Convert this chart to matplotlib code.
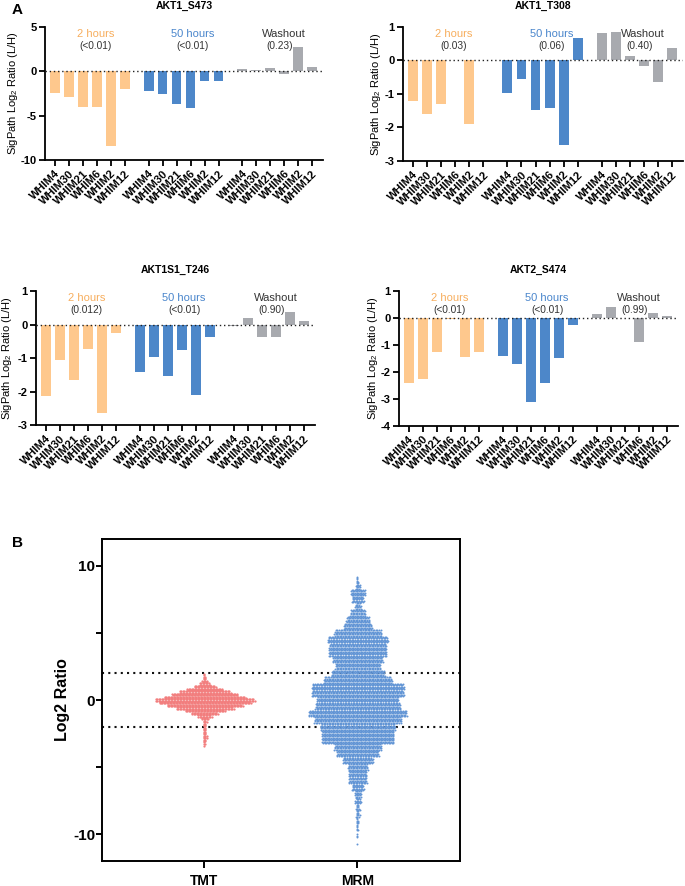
import numpy as np
import matplotlib
matplotlib.use('Agg')
import matplotlib.pyplot as plt

plt.rcParams['font.family'] = ['Liberation Sans', 'DejaVu Sans']
plt.rcParams['mathtext.fontset'] = 'custom'
plt.rcParams['mathtext.rm'] = 'Liberation Sans'
plt.rcParams['mathtext.it'] = 'Liberation Sans:italic'
plt.rcParams['mathtext.bf'] = 'Liberation Sans:bold'

# ---- panel A data ----
cell_lines = ['WHIM4', 'WHIM30', 'WHIM21', 'WHIM6', 'WHIM2', 'WHIM12']
groups = ['2 hours', '50 hours', 'Washout']

s473_2h = [-2.45, -2.85, -4.05, -4.05, -8.4, -2.0]
s473_50h = [-2.2, -2.55, -3.65, -4.15, -1.05, -1.1]
s473_wash = [0.25, 0.12, 0.35, -0.35, 2.8, 0.45]
s473_p = ['(<0.01)', '(<0.01)', '(0.23)']

t308_2h = [-1.2, -1.6, -1.3, 0.0, -1.9, 0.02]
t308_50h = [-0.98, -0.56, -1.48, -1.42, -2.53, 0.65]
t308_wash = [0.8, 0.84, 0.12, -0.16, -0.65, 0.35]
t308_p = ['(0.03)', '(0.06)', '(0.40)']

t246_2h = [-2.14, -1.05, -1.67, -0.73, -2.64, -0.26]
t246_50h = [-1.41, -0.98, -1.53, -0.77, -2.1, -0.37]
t246_wash = [-0.03, 0.2, -0.38, -0.36, 0.37, 0.12]
t246_p = ['(0.012)', '(<0.01)', '(0.90)']

s474_2h = [-2.43, -2.28, -1.27, -0.03, -1.46, -1.26]
s474_50h = [-1.41, -1.69, -3.12, -2.4, -1.5, -0.25]
s474_wash = [0.15, 0.42, 0.0, -0.88, 0.19, 0.07]
s474_p = ['(<0.01)', '(<0.01)', '(0.99)']

# ---- panel B data: swarm counts per bin ----
tmt_bins = [2.0, 1.8, 1.6, 1.4, 1.2, 1.0, 0.8, 0.6, 0.4, 0.2, 0.0,
            -0.2, -0.4, -0.6, -0.8, -1.0, -1.2, -1.4, -1.6, -1.8, -2.0,
            -2.2, -2.4, -2.6, -2.8, -3.0, -3.2, -3.4]
tmt_counts = [1, 3, 4, 8, 15, 29, 48, 69, 88, 109, 133,
              123, 101, 77, 53, 35, 19, 9, 5, 4, 4,
              4, 4, 5, 5, 4, 3, 1]

mrm_bins = [9.0, 8.5, 8.0, 7.5, 7.0, 6.5, 6.0, 5.5, 5.0, 4.5, 4.0, 3.5,
            3.0, 2.5, 2.0, 1.5, 1.0, 0.5, 0.0, -0.5, -1.0, -1.5, -2.0,
            -2.5, -3.0, -3.5, -4.0, -4.5, -5.0, -5.5, -6.0, -6.5, -7.0,
            -7.5, -8.0, -8.5, -9.0, -9.5, -10.0, -10.5]
mrm_counts = [6, 14, 45, 37, 18, 47, 72, 88, 147, 188, 178, 181,
              156, 141, 166, 213, 288, 288, 256, 266, 306, 272, 234,
              225, 225, 147, 131, 94, 62, 56, 56, 37, 20,
              18, 12, 12, 8, 6, 3, 1]

ORANGE = '#FEC88D'
BLUE = '#4D87C9'
GREY = '#A8AAAF'
ORANGE_TXT = '#F7AE5E'
BLUE_TXT = '#4A86CC'


def bar_panel(ax, title, series, pvals, ylim, yticks, ylab_x):
    colors = [ORANGE, BLUE, GREY]
    ticks = []
    for g, vals in enumerate(series):
        pos = g * 6.7 + np.arange(len(vals))
        ax.bar(pos, vals, width=0.7, color=colors[g], zorder=2)
        ticks.extend(pos)
    ax.axhline(0, color='#222222', lw=1.0, ls=(0, (1, 2)), zorder=3)
    ax.set_xlim(-0.71, 19.17)
    ax.set_ylim(*ylim)
    ax.set_yticks(yticks)
    ax.set_yticklabels([str(t) for t in yticks], fontsize=8, fontweight='bold')
    ax.set_xticks(ticks)
    ax.set_xticklabels(cell_lines * 3, rotation=45, ha='right', va='top',
                       rotation_mode='anchor', fontsize=8, fontweight='bold')
    for sp in ['top', 'right']:
        ax.spines[sp].set_visible(False)
    for sp in ['left', 'bottom']:
        ax.spines[sp].set_linewidth(1.3)
    ax.tick_params(axis='both', length=4, width=1.3, pad=2)
    ax.text(0.5, 1.155, title, transform=ax.transAxes, ha='center',
            va='center', fontsize=7.5, fontweight='bold')
    ax.text(ylab_x, 0.5, 'SigPath Log$_2$ Ratio (L/H)', transform=ax.transAxes,
            rotation=90, ha='center', va='center', fontsize=8)
    tcol = [ORANGE_TXT, BLUE_TXT, '#333333']
    hx = [2.9, 9.85, 16.35]
    px = [2.9, 9.85, 16.1]
    for g in range(3):
        ax.text(hx[g], 0.948, groups[g], transform=ax.get_xaxis_transform(),
                ha='center', va='center', fontsize=8, color=tcol[g])
        ax.text(px[g], 0.857, pvals[g], transform=ax.get_xaxis_transform(),
                ha='center', va='center', fontsize=7.3, color='#333333')


def swarm(ax, xc, centers, counts, binh, rows, dx, color, size):
    xs, ys = [], []
    k = 0
    for yc, n in zip(centers, counts):
        parts = np.array_split(np.arange(n), rows)
        for r, idx in enumerate(parts):
            m = len(idx)
            k += 1
            if m == 0:
                continue
            y = yc + (r - (rows - 1) / 2) * binh / rows
            off = (np.arange(m) - (m - 1) / 2) * dx
            if m > 2 and k % 2:
                off = off + dx / 2
            xs.extend(xc + off)
            ys.extend([y] * m)
    ax.scatter(xs, ys, s=size, c=color, lw=0, marker='o', zorder=3)


fig = plt.figure(figsize=(6.85, 8.86), dpi=100)

ax1 = fig.add_axes([0.0657, 0.8194, 0.4058, 0.1501])
bar_panel(ax1, 'AKT1_S473', [s473_2h, s473_50h, s473_wash], s473_p,
          (-10, 5), [5, 0, -5, -10], -0.115)

ax2 = fig.add_axes([0.5883, 0.8183, 0.4088, 0.1516])
bar_panel(ax2, 'AKT1_T308', [t308_2h, t308_50h, t308_wash], t308_p,
          (-3, 1), [1, 0, -1, -2, -3], -0.096)

ax3 = fig.add_axes([0.0521, 0.5203, 0.4077, 0.1512])
bar_panel(ax3, 'AKT1S1_T246', [t246_2h, t246_50h, t246_wash], t246_p,
          (-3, 1), [1, 0, -1, -2, -3], -0.103)

ax4 = fig.add_axes([0.5820, 0.5195, 0.4077, 0.1520])
bar_panel(ax4, 'AKT2_S474', [s474_2h, s474_50h, s474_wash], s474_p,
          (-4, 1), [1, 0, -1, -2, -3, -4], -0.092)

fig.text(12 / 685, 1 - 10 / 886, 'A', fontsize=11, fontweight='bold',
         ha='left', va='center')
fig.text(12 / 685, 1 - 543 / 886, 'B', fontsize=11, fontweight='bold',
         ha='left', va='center')

# ---- panel B ----
axb = fig.add_axes([0.1489, 0.0282, 0.5226, 0.3634])
for yv in (2, -2):
    axb.axhline(yv, color='#111111', lw=1.5, ls=(0, (1, 2)), zorder=1)
swarm(axb, 0, tmt_bins, tmt_counts, 0.2, 2, 1.5 / 153, '#F27E7E', 2.6)
swarm(axb, 1, mrm_bins, mrm_counts, 0.5, 5, 1.6 / 153, '#6295D5', 2.0)
axb.set_xlim(-0.67, 1.67)
axb.set_ylim(-12, 12)
axb.set_yticks([-10, -5, 0, 5, 10])
axb.set_yticklabels(['-10', '', '0', '', '10'], fontsize=11, fontweight='bold')
axb.set_xticks([0, 1])
axb.set_xticklabels(['TMT', 'MRM'], fontsize=10, fontweight='bold')
for sp in axb.spines.values():
    sp.set_linewidth(1.4)
axb.tick_params(axis='y', length=4, width=1.4, pad=1)
axb.tick_params(axis='x', length=5, width=1.4, pad=4)
axb.text(-0.109, 0.5, 'Log2 Ratio', transform=axb.transAxes, rotation=90,
         ha='center', va='center', fontsize=11.5, fontweight='bold')

fig.savefig('out.png', dpi=100)
